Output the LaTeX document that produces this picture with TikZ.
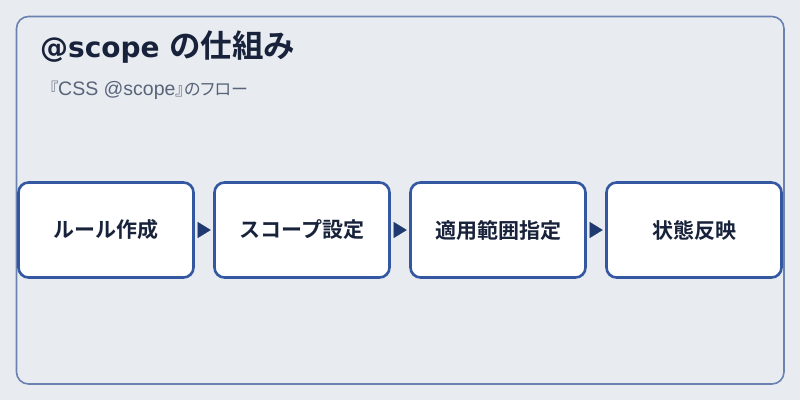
\documentclass[tikz,border=0pt]{standalone}
\usepackage{fontspec}
\setmainfont{Noto Sans CJK JP}
\newfontfamily\jpbold{Noto Sans CJK JP Bold}
\newfontfamily\jppalt[RawFeature=+palt]{Noto Sans CJK JP}
\newfontfamily\latinsans{Liberation Sans}
\newfontfamily\latinbold{DejaVu Sans Bold}
\usetikzlibrary{arrows.meta}
\definecolor{bg}{HTML}{E8ECF1}
\definecolor{frame}{HTML}{6A82B0}
\definecolor{boxline}{HTML}{3357A0}
\definecolor{txt}{HTML}{18223A}
\definecolor{sub}{HTML}{5A6478}
\definecolor{arr}{HTML}{1F3A70}
\tikzset{
  stepbox/.style={draw=boxline, line width=2.6pt, fill=white, rounded corners=10pt,
    minimum width=175pt, minimum height=95pt, inner sep=0pt,
    font=\jpbold\fontsize{21}{24}\selectfont, text=txt},
  flowarrow/.style={-{Triangle[length=13pt,width=16pt]}, color=arr, line width=0.1pt,
    shorten <=3pt, shorten >=2.5pt}
}
\begin{document}
\begin{tikzpicture}[x=1pt,y=-1pt]
\useasboundingbox (0,0) rectangle (800,400);
\fill[bg] (0,0) rectangle (800,400);
\draw[frame, line width=1.6pt, rounded corners=12pt, fill=bg] (16.5,16.5) rectangle (784,384);
\node[anchor=base west, inner sep=0pt, text=txt] (title) at (40,57.5)
  {{\latinbold\fontsize{28}{32}\selectfont @scope }{\jpbold\fontsize{31.5}{34}\selectfont の仕組み}};
\node[anchor=base west, inner sep=0pt, text=sub] (subtitle) at (49.5,95)
  {{\jppalt\fontsize{17}{20}\selectfont 『}{\latinsans\fontsize{19.5}{22}\selectfont CSS @scope}{\jppalt\fontsize{17}{20}\selectfont 』のフロー}};
\node[stepbox] (s1) at (106,230) {ルール作成};
\node[stepbox] (s2) at (302,230) {スコープ設定};
\node[stepbox] (s3) at (498,230) {適用範囲指定};
\node[stepbox] (s4) at (694,230) {状態反映};
\draw[flowarrow] (s1) -- (s2);
\draw[flowarrow] (s2) -- (s3);
\draw[flowarrow] (s3) -- (s4);
\end{tikzpicture}
\end{document}
